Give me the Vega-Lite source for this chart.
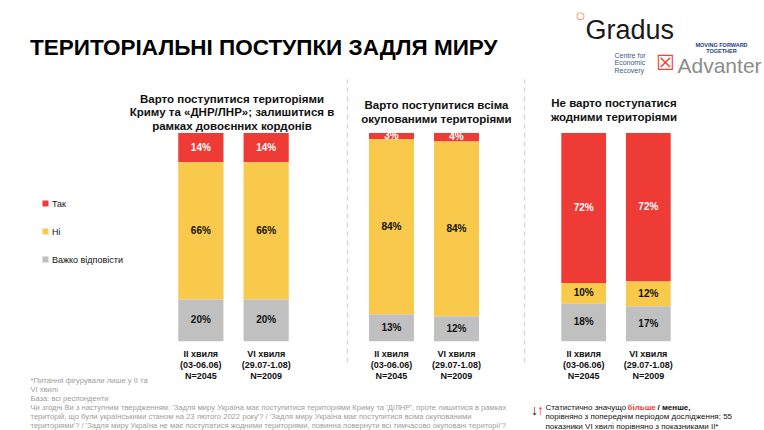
{
  "$schema": "https://vega.github.io/schema/vega-lite/v6.json",
  "padding": {"left": 30, "top": 10, "right": 0, "bottom": 0},
  "background": "white",
  "bounds": "flush",
  "spacing": 0,
  "config": {
    "view": {"stroke": null},
    "font": "Liberation Sans, Arial, sans-serif"
  },
  "title": {
    "text": "ТЕРИТОРІАЛЬНІ ПОСТУПКИ ЗАДЛЯ МИРУ",
    "anchor": "start",
    "frame": "group",
    "fontSize": 22.5,
    "fontWeight": "bold",
    "color": "#000000",
    "offset": -49
  },
  "data": {
    "values": [
      {"panel": 1, "wave": "II хвиля|(03-06.06)|N=2045", "answer": "Так", "order": 3, "value": 0.14},
      {"panel": 1, "wave": "II хвиля|(03-06.06)|N=2045", "answer": "Ні", "order": 2, "value": 0.66},
      {"panel": 1, "wave": "II хвиля|(03-06.06)|N=2045", "answer": "Важко відповісти", "order": 1, "value": 0.20},
      {"panel": 1, "wave": "VI хвиля|(29.07-1.08)|N=2009", "answer": "Так", "order": 3, "value": 0.14},
      {"panel": 1, "wave": "VI хвиля|(29.07-1.08)|N=2009", "answer": "Ні", "order": 2, "value": 0.66},
      {"panel": 1, "wave": "VI хвиля|(29.07-1.08)|N=2009", "answer": "Важко відповісти", "order": 1, "value": 0.20},
      {"panel": 2, "wave": "II хвиля|(03-06.06)|N=2045", "answer": "Так", "order": 3, "value": 0.03},
      {"panel": 2, "wave": "II хвиля|(03-06.06)|N=2045", "answer": "Ні", "order": 2, "value": 0.84},
      {"panel": 2, "wave": "II хвиля|(03-06.06)|N=2045", "answer": "Важко відповісти", "order": 1, "value": 0.13},
      {"panel": 2, "wave": "VI хвиля|(29.07-1.08)|N=2009", "answer": "Так", "order": 3, "value": 0.04},
      {"panel": 2, "wave": "VI хвиля|(29.07-1.08)|N=2009", "answer": "Ні", "order": 2, "value": 0.84},
      {"panel": 2, "wave": "VI хвиля|(29.07-1.08)|N=2009", "answer": "Важко відповісти", "order": 1, "value": 0.12},
      {"panel": 3, "wave": "II хвиля|(03-06.06)|N=2045", "answer": "Так", "order": 3, "value": 0.72},
      {"panel": 3, "wave": "II хвиля|(03-06.06)|N=2045", "answer": "Ні", "order": 2, "value": 0.10},
      {"panel": 3, "wave": "II хвиля|(03-06.06)|N=2045", "answer": "Важко відповісти", "order": 1, "value": 0.18},
      {"panel": 3, "wave": "VI хвиля|(29.07-1.08)|N=2009", "answer": "Так", "order": 3, "value": 0.72},
      {"panel": 3, "wave": "VI хвиля|(29.07-1.08)|N=2009", "answer": "Ні", "order": 2, "value": 0.12},
      {"panel": 3, "wave": "VI хвиля|(29.07-1.08)|N=2009", "answer": "Важко відповісти", "order": 1, "value": 0.17}
    ]
  },
  "hconcat": [
    {
      "width": 317,
      "height": 283,
      "title": {
        "text": ["Варто поступитися територіями", "Криму та «ДНР/ЛНР»; залишитися в", "рамках довоєнних кордонів"],
        "frame": "group", "anchor": "middle", "dx": 43.5, "offset": -122, "fontSize": 11.5, "fontWeight": "bold", "lineHeight": 13.5, "color": "#111111"
      },
      "transform": [
        {"filter": "datum.panel === 1"},
        {"stack": "value", "groupby": ["wave"], "sort": [{"field": "order", "order": "ascending"}], "offset": "normalize", "as": ["v0", "v1"]},
        {"calculate": "(datum.v0 + datum.v1) / 2", "as": "vm"}
      ],
      "resolve": {"axis": {"x": "independent", "y": "independent"}},
      "layer": [
        {
          "mark": {"type": "bar"},
          "encoding": {
            "x": {
              "field": "wave", "type": "nominal", "sort": null,
              "scale": {"range": [90, 317], "paddingInner": 0.3077, "paddingOuter": 0.892, "align": 0.5},
              "axis": {
                "orient": "bottom", "domain": false, "ticks": false, "labelAngle": 0, "labelExpr": "split(datum.value, '|')",
                "labelFontWeight": "bold", "labelFontSize": 9, "labelLineHeight": 11, "labelColor": "#111111",
                "labelPadding": 0, "labelBaseline": "top", "offset": -13,
                "title": ["*Питання фігурували лише у II та", "VI хвилі", "База: всі респонденти", "Чи згодні Ви з наступним твердженням: 'Задля миру Україна має поступитися територіями Криму та 'Д/ЛНР', проте лишитися в рамках", "територій, що були українськими станом на 23 лютого 2022 року'? / 'Задля миру Україна має поступитися всіма окупованими", "територіями'? / 'Задля миру Україна не має поступатися жодними територіями, повинна повернути всі тимчасово окуповані території'?"],
                "titleX": 0, "titleY": 27, "titleAlign": "left", "titleBaseline": "top", "titleAngle": 0,
                "titleFontSize": 7.6, "titleFontWeight": "normal", "titleColor": "#9d9d9d", "titleLineHeight": 9
              }
            },
            "y": {"field": "v0", "type": "quantitative", "scale": {"domain": [-0.1, 1.26], "nice": false, "zero": false},
              "axis": {"orient": "left", "domain": false, "labels": false, "ticks": false, "grid": false, "title": "/ менше,", "titleAngle": 0, "titleX": 627, "titleY": 324, "titleAlign": "left", "titleBaseline": "top", "titleFontSize": 8, "titleFontWeight": "bold", "titleColor": "#111111"}},
            "y2": {"field": "v1"},
            "color": {
              "field": "answer", "type": "nominal",
              "scale": {"domain": ["Так", "Ні", "Важко відповісти"], "range": ["#EE3B36", "#F8C94A", "#C0C0C0"]},
              "legend": {"title": null, "orient": "none", "legendX": 11, "legendY": 120, "symbolType": "square", "symbolSize": 36, "symbolStrokeWidth": 0, "labelFontSize": 9, "labelColor": "#111111", "rowPadding": 18, "labelOffset": 2}
            }
          }
        },
        {
          "mark": {"type": "text", "fontSize": 10, "fontWeight": "bold"},
          "encoding": {
            "x": {
              "field": "wave", "type": "nominal", "sort": null,
              "scale": {"range": [90, 317], "paddingInner": 0.3077, "paddingOuter": 0.892, "align": 0.5},
              "axis": {"orient": "top", "domain": false, "ticks": false, "labels": false, "title": "☒", "titleX": 635, "titleY": -16, "titleAlign": "center", "titleBaseline": "middle", "titleAngle": 0, "titleFontSize": 21, "titleFontWeight": "normal", "titleColor": "#E8443A", "titleFont": "DejaVu Sans, sans-serif"}
            },
            "y": {"field": "vm", "type": "quantitative",
              "axis": {"orient": "right", "domain": false, "labels": false, "ticks": false, "grid": false, "title": "○", "titleAngle": 0, "titleX": 233, "titleY": -64, "titleAlign": "center", "titleBaseline": "middle", "titleFontSize": 10, "titleFontWeight": "bold", "titleColor": "#F26B1D", "titleFont": "DejaVu Sans, sans-serif"}},
            "text": {"field": "value", "type": "quantitative", "format": ".0%"},
            "color": {"condition": {"test": "datum.answer === 'Так'", "value": "#ffffff"}, "value": "#111111"}
          }
        }
      ]
    },
    {
      "width": 177,
      "height": 283,
      "title": {
        "text": ["Варто поступитися всіма", "окупованими територіями"],
        "frame": "group", "anchor": "middle", "dx": 1, "offset": -83, "fontSize": 11.5, "fontWeight": "bold", "lineHeight": 13.5, "color": "#111111"
      },
      "transform": [
        {"filter": "datum.panel === 2"},
        {"stack": "value", "groupby": ["wave"], "sort": [{"field": "order", "order": "ascending"}], "offset": "normalize", "as": ["v0", "v1"]},
        {"calculate": "(datum.v0 + datum.v1) / 2", "as": "vm"}
      ],
      "resolve": {"axis": {"x": "independent", "y": "independent"}},
      "layer": [
        {
          "mark": {"type": "bar"},
          "encoding": {
            "x": {
              "field": "wave", "type": "nominal", "sort": null,
              "scale": {"paddingInner": 0.3077, "paddingOuter": 0.515, "align": 0.328},
              "axis": {
                "orient": "bottom", "domain": false, "ticks": false, "labelAngle": 0, "labelExpr": "split(datum.value, '|')",
                "labelFontWeight": "bold", "labelFontSize": 9, "labelLineHeight": 11, "labelColor": "#111111",
                "labelPadding": 0, "labelBaseline": "top", "offset": -13,
                "title": "більше", "titleX": 280, "titleY": 54, "titleAlign": "left", "titleBaseline": "top", "titleAngle": 0,
                "titleFontSize": 8, "titleFontWeight": "bold", "titleColor": "#EE3B36"
              }
            },
            "y": {"field": "v0", "type": "quantitative", "scale": {"domain": [-0.1, 1.26], "nice": false, "zero": false},
              "axis": {"orient": "left", "labels": false, "ticks": false, "grid": false, "domainColor": "#d9d9d9", "domainDash": [5, 4], "domainWidth": 1.5,
                "title": "↑", "titleAngle": 0, "titleX": 193, "titleY": 331, "titleAlign": "center", "titleBaseline": "middle", "titleFontSize": 14, "titleFontWeight": "bold", "titleColor": "#EE3B36"}},
            "y2": {"field": "v1"},
            "color": {
              "field": "answer", "type": "nominal",
              "scale": {"domain": ["Так", "Ні", "Важко відповісти"], "range": ["#EE3B36", "#F8C94A", "#C0C0C0"]},
              "legend": {"title": null, "orient": "none", "legendX": 11, "legendY": 120, "symbolType": "square", "symbolSize": 36, "symbolStrokeWidth": 0, "labelFontSize": 9, "labelColor": "#111111", "rowPadding": 18, "labelOffset": 2}
            }
          }
        },
        {
          "mark": {"type": "text", "fontSize": 10, "fontWeight": "bold"},
          "encoding": {
            "x": {
              "field": "wave", "type": "nominal", "sort": null,
              "scale": {"paddingInner": 0.3077, "paddingOuter": 0.515, "align": 0.328},
              "axis": {"orient": "top", "domain": false, "ticks": false, "labels": false, "title": ["Centre for", "Economic", "Recovery"], "titleX": 267, "titleY": -28, "titleAlign": "left", "titleBaseline": "top", "titleAngle": 0, "titleFontSize": 7, "titleFontWeight": "normal", "titleColor": "#3B5B8F", "titleLineHeight": 7.5}
            },
            "y": {"field": "vm", "type": "quantitative",
              "axis": {"orient": "right", "domain": false, "labels": false, "ticks": false, "grid": false, "title": ["MOVING FORWARD", "TOGETHER"], "titleAngle": 0, "titleX": 197, "titleY": -37, "titleAlign": "center", "titleBaseline": "top", "titleFontSize": 5.5, "titleFontWeight": "bold", "titleColor": "#1E3A8A", "titleLineHeight": 6.5}},
            "text": {"field": "value", "type": "quantitative", "format": ".0%"},
            "color": {"condition": {"test": "datum.answer === 'Так'", "value": "#ffffff"}, "value": "#111111"}
          }
        }
      ]
    },
    {
      "width": 184,
      "height": 283,
      "title": {
        "text": ["Не варто поступатися", "жодними територіями"],
        "frame": "group", "anchor": "middle", "dx": -2, "offset": -107, "fontSize": 11.5, "fontWeight": "bold", "lineHeight": 13.5, "color": "#111111"
      },
      "transform": [
        {"filter": "datum.panel === 3"},
        {"stack": "value", "groupby": ["wave"], "sort": [{"field": "order", "order": "ascending"}], "offset": "normalize", "as": ["v0", "v1"]},
        {"calculate": "(datum.v0 + datum.v1) / 2", "as": "vm"}
      ],
      "resolve": {"axis": {"x": "independent", "y": "independent"}},
      "layer": [
        {
          "mark": {"type": "bar"},
          "encoding": {
            "x": {
              "field": "wave", "type": "nominal", "sort": null,
              "scale": {"paddingInner": 0.3077, "paddingOuter": 0.577, "align": 0.5},
              "axis": {
                "orient": "bottom", "domain": false, "ticks": false, "labelAngle": 0, "labelExpr": "split(datum.value, '|')",
                "labelFontWeight": "bold", "labelFontSize": 9, "labelLineHeight": 11, "labelColor": "#111111",
                "labelPadding": 0, "labelBaseline": "top", "offset": -13,
                "title": ["Статистично значущо", "порівняно з попереднім періодом дослідження; 55", "показники VI хвилі порівняно з показниками II*"],
                "titleX": 21, "titleY": 54, "titleAlign": "left", "titleBaseline": "top", "titleAngle": 0,
                "titleFontSize": 8, "titleFontWeight": "normal", "titleColor": "#111111", "titleLineHeight": 9.5
              }
            },
            "y": {"field": "v0", "type": "quantitative", "scale": {"domain": [-0.1, 1.26], "nice": false, "zero": false},
              "axis": {"orient": "left", "labels": false, "ticks": false, "grid": false, "domainColor": "#d9d9d9", "domainDash": [5, 4], "domainWidth": 1.5,
                "title": "↓", "titleAngle": 0, "titleX": 10, "titleY": 331, "titleAlign": "center", "titleBaseline": "middle", "titleFontSize": 14, "titleFontWeight": "bold", "titleColor": "#111111"}},
            "y2": {"field": "v1"},
            "color": {
              "field": "answer", "type": "nominal",
              "scale": {"domain": ["Так", "Ні", "Важко відповісти"], "range": ["#EE3B36", "#F8C94A", "#C0C0C0"]},
              "legend": {"title": null, "orient": "none", "legendX": 11, "legendY": 120, "symbolType": "square", "symbolSize": 36, "symbolStrokeWidth": 0, "labelFontSize": 9, "labelColor": "#111111", "rowPadding": 18, "labelOffset": 2}
            }
          }
        },
        {
          "mark": {"type": "text", "fontSize": 10, "fontWeight": "bold"},
          "encoding": {
            "x": {
              "field": "wave", "type": "nominal", "sort": null,
              "scale": {"paddingInner": 0.3077, "paddingOuter": 0.577, "align": 0.5},
              "axis": {"orient": "top", "domain": false, "ticks": false, "labels": false, "title": "Gradus", "titleX": 61, "titleY": -41, "titleAlign": "left", "titleBaseline": "alphabetic", "titleAngle": 0, "titleFontSize": 27, "titleFontWeight": "normal", "titleColor": "#1a1a1a"}
            },
            "y": {"field": "vm", "type": "quantitative",
              "axis": {"orient": "right", "domain": false, "labels": false, "ticks": false, "grid": false, "title": "Advanter", "titleAngle": 0, "titleX": -31, "titleY": -7, "titleAlign": "left", "titleBaseline": "alphabetic", "titleFontSize": 21, "titleFontWeight": "normal", "titleColor": "#8c8c8c"}},
            "text": {"field": "value", "type": "quantitative", "format": ".0%"},
            "color": {"condition": {"test": "datum.answer === 'Так'", "value": "#ffffff"}, "value": "#111111"}
          }
        }
      ]
    }
  ]
}
